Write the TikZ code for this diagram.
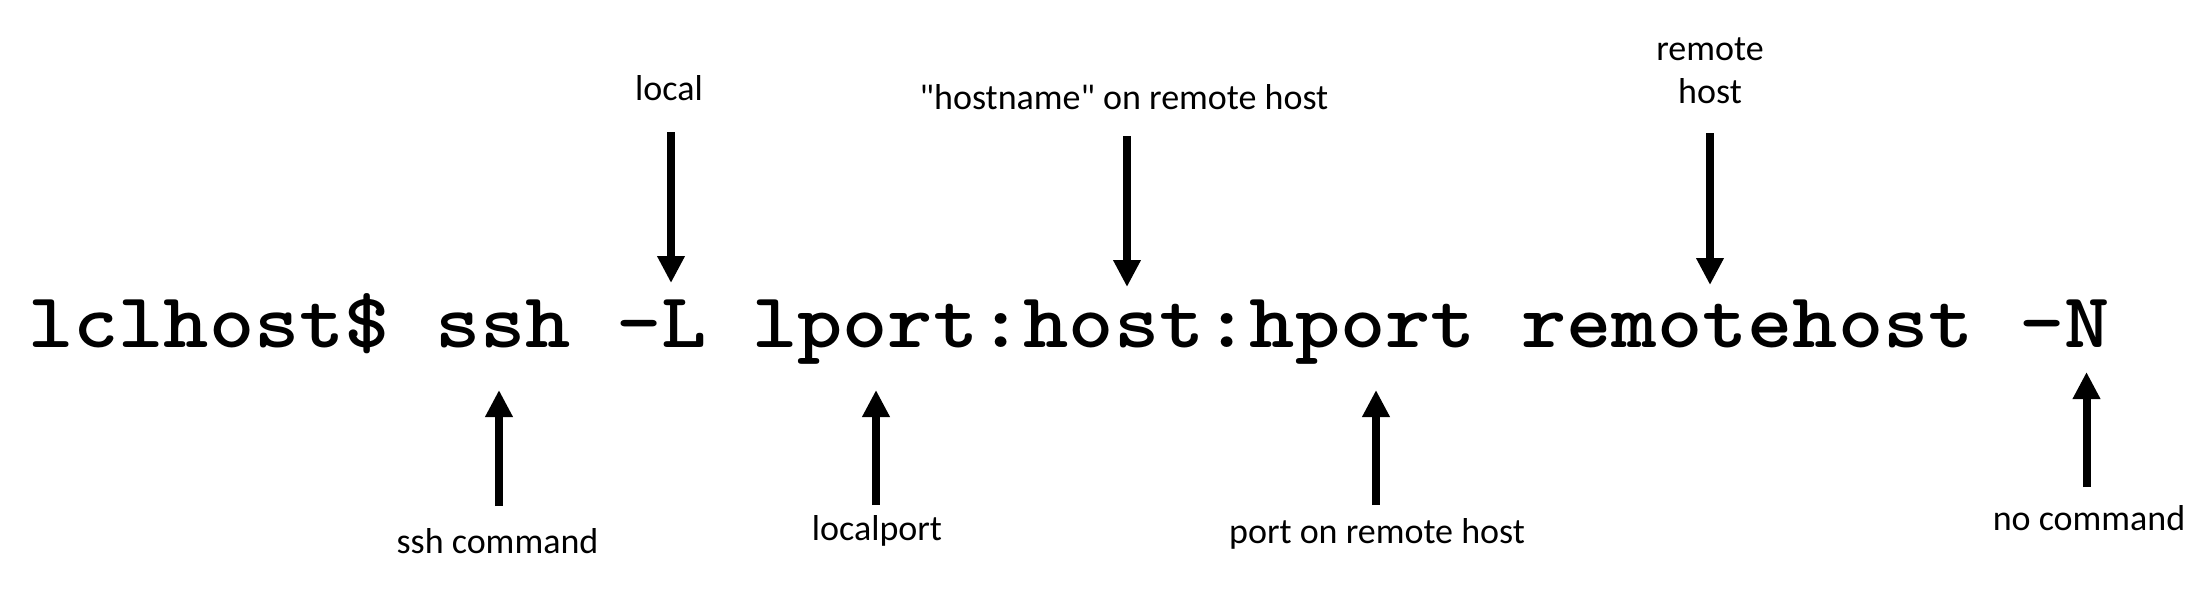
\documentclass[tikz,border=0pt]{standalone}
\usepackage{fontspec}
\usepackage{graphicx}
\newfontfamily\labfont{Carlito}
\usetikzlibrary{arrows.meta}
\tikzset{
  lab/.style={font=\labfont\fontsize{36}{43}\selectfont, inner sep=0pt, anchor=base, text=black},
  cmd/.style={font=\ttfamily\bfseries\fontsize{78}{90}\selectfont, inner sep=0pt, anchor=base west, text=black},
  arr/.style={line width=8pt, -{Triangle[length=27pt,width=26pt]}, black}
}
\begin{document}
\begin{tikzpicture}[x=1pt,y=-1pt]
\useasboundingbox[fill=white] (0,0) rectangle (2212,594);
% command line
\node[cmd] (cmdline) at (28,347) {\scalebox{1.105}[1]{lclhost\$ ssh -L lport:host:hport remotehost -N}};
% labels above
\node[lab] (llocal) at (669,100) {local};
\node[lab] (lhostname) at (1124,109) {"hostname" on remote host};
\node[lab] (lremote) at (1710,60.7) {remote};
\node[lab] (lhost) at (1710,103.3) {host};
% labels below
\node[lab] (lssh) at (497.5,553) {ssh command};
\node[lab] (llport) at (877,540) {localport};
\node[lab] (lhport) at (1377,543) {port on remote host};
\node[lab] (lnocmd) at (2089,530) {no command};
% arrow end points
\coordinate (s1) at (671,132);   \coordinate (t1) at (671,283);
\coordinate (s2) at (1127,136);  \coordinate (t2) at (1127,287);
\coordinate (s3) at (1710,133);  \coordinate (t3) at (1710,285);
\coordinate (s4) at (499,506);   \coordinate (t4) at (499,390);
\coordinate (s5) at (876,505);   \coordinate (t5) at (876,390);
\coordinate (s6) at (1376,505);  \coordinate (t6) at (1376,390);
\coordinate (s7) at (2086.5,487); \coordinate (t7) at (2086.5,372);
\draw[arr] (s1) -- (t1);
\draw[arr] (s2) -- (t2);
\draw[arr] (s3) -- (t3);
\draw[arr] (s4) -- (t4);
\draw[arr] (s5) -- (t5);
\draw[arr] (s6) -- (t6);
\draw[arr] (s7) -- (t7);
\end{tikzpicture}
\end{document}
